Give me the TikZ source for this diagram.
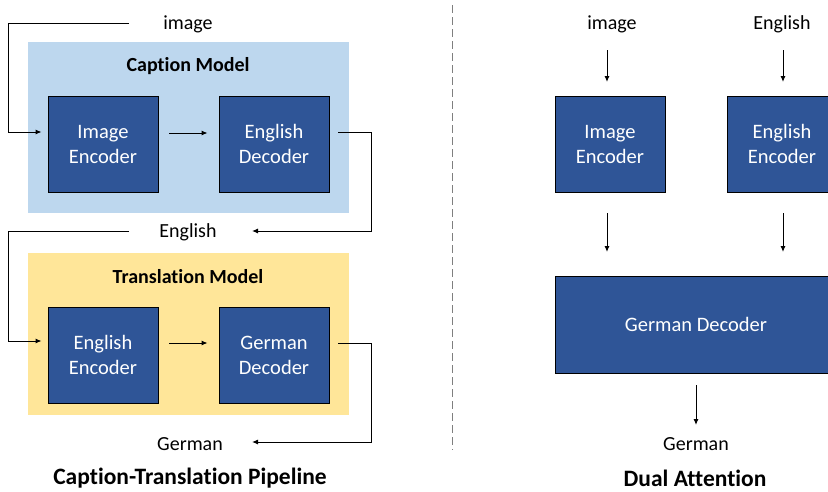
\documentclass[tikz,border=0pt]{standalone}
\usepackage{fontspec}
\setmainfont{Carlito}[Ligatures=NoCommon]
\usetikzlibrary{arrows.meta,calc}
\definecolor{blockblue}{HTML}{2F5597}
\definecolor{capbg}{HTML}{BDD7EE}
\definecolor{transbg}{HTML}{FFE699}
\definecolor{dashgray}{HTML}{7F7F7F}
\tikzset{
  block/.style={draw=black,line width=0.9pt,fill=blockblue,text=white,minimum width=110pt,minimum height=96pt,align=center,inner sep=0pt,font=\fontsize{20.5}{25}\selectfont},
  lbl/.style={inner sep=0pt,font=\fontsize{20}{24}\selectfont},
  ttl/.style={inner sep=0pt,font=\bfseries\fontsize{20}{24}\selectfont},
  bigttl/.style={inner sep=0pt,font=\bfseries\fontsize{23.5}{28}\selectfont},
  conn/.style={line width=1pt,-{Latex[length=6pt,width=5pt]}},
}
\begin{document}
\begin{tikzpicture}[x=1pt,y=-1pt]
\useasboundingbox (0,0) rectangle (828,491);
\clip (0,0) rectangle (828,491);
\fill[white] (0,0) rectangle (828,491);
% backgrounds
\fill[capbg] (28,42) rectangle (349,213);
\fill[transbg] (28,253) rectangle (349,415);
\node[ttl] (capt) at (188,66) {Caption Model};
\node[ttl] (transt) at (188,277) {Translation Model};
% left blocks
\node[block] (ie) at (103,144) {Image\\Encoder};
\node[block] (ed) at (274,144) {English\\Decoder};
\node[block] (ee) at (103,355) {English\\Encoder};
\node[block] (gd) at (274,355) {German\\Decoder};
% left labels
\node[lbl] (imgL) at (188,24) {image};
\node[lbl] (engL) at (188,232) {English};
\node[lbl] (gerL) at (190,444) {German};
\node[bigttl] (pipeT) at (190,478) {Caption-Translation Pipeline};
% left coordinates
\coordinate (a1) at (129,23);
\coordinate (a2) at (8,23);
\coordinate (b1) at (129,231);
\coordinate (b2) at (8,231);
\coordinate (c1) at (371,132);
\coordinate (c2) at (371,231);
\coordinate (c3) at (252,231);
\coordinate (d1) at (371,343);
\coordinate (d2) at (371,442);
\coordinate (d3) at (252,442);
% left connectors
\draw[conn,shorten >=6pt] (a1) -- (a2) |- ([yshift=12pt]ie.west);
\draw[conn,shorten >=11pt,shorten <=11pt] ([yshift=11pt]ie.east) -- ([yshift=11pt]ed.west);
\draw[conn,shorten <=9pt] ([yshift=12pt]ed.east) -- (c1) -- (c2) -- (c3);
\draw[conn,shorten >=6pt] (b1) -- (b2) |- ([yshift=14pt]ee.west);
\draw[conn,shorten >=11pt,shorten <=11pt] ([yshift=12pt]ee.east) -- ([yshift=12pt]gd.west);
\draw[conn,shorten <=9pt] ([yshift=12pt]gd.east) -- (d1) -- (d2) -- (d3);
% divider
\coordinate (dv1) at (452,5);
\coordinate (dv2) at (452,450);
\draw[dashgray,line width=1pt,dash pattern=on 8pt off 4pt] (dv1) -- (dv2);
% right panel
\node[lbl] (imgR) at (612,24) {image};
\node[lbl] (engR) at (782,24) {English};
\node[block] (ieR) at (610,144) {Image\\Encoder};
\node[block] (eeR) at (782,144) {English\\Encoder};
\node[block,minimum width=282pt,minimum height=97pt] (gdR) at (696,324.5) {German Decoder};
\node[lbl] (gerR) at (696,444) {German};
\node[bigttl] (dualT) at (695,478) {Dual Attention};
\coordinate (r1) at (607,50);
\coordinate (r2) at (607,82);
\coordinate (s1) at (783,50);
\coordinate (s2) at (783,82);
\coordinate (r3) at (607,213);
\coordinate (r4) at (607,252);
\coordinate (s3) at (783,213);
\coordinate (s4) at (783,252);
\coordinate (t1) at (696,385);
\coordinate (t2) at (696,425);
\draw[conn] (r1) -- (r2);
\draw[conn] (s1) -- (s2);
\draw[conn] (r3) -- (r4);
\draw[conn] (s3) -- (s4);
\draw[conn] (t1) -- (t2);
\end{tikzpicture}
\end{document}
